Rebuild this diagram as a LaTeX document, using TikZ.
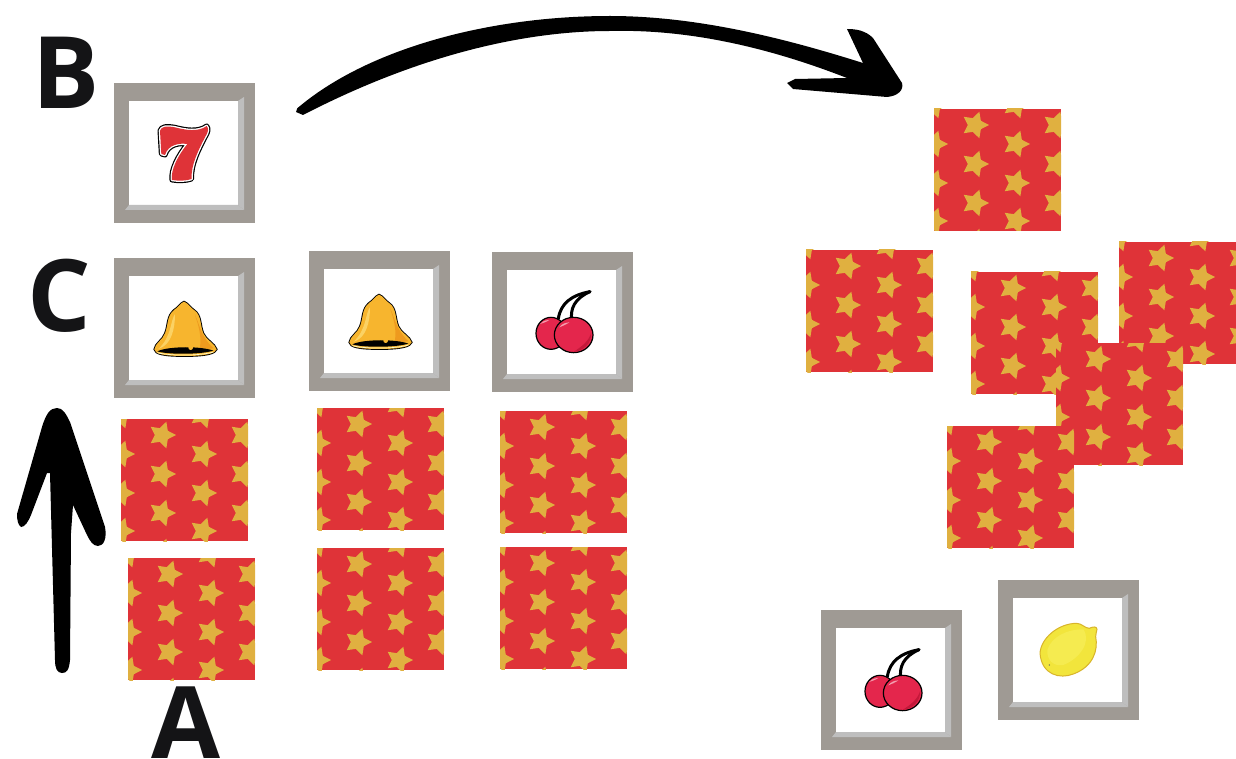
\documentclass[tikz,border=0pt]{standalone}
\usepackage{fontspec}
\setmainfont{Open Sans}
\definecolor{cardred}{HTML}{DF3338}
\definecolor{staryel}{HTML}{E0B040}
\definecolor{framegray}{HTML}{9F9A94}
\definecolor{bevelgray}{HTML}{BEBEBE}
\definecolor{cherryred}{HTML}{E4264C}
\definecolor{cherrydark}{HTML}{C4183A}
\definecolor{inkblack}{HTML}{000000}
\definecolor{lettergray}{HTML}{141416}
\definecolor{bellmid}{HTML}{F7B52E}
\definecolor{bellhigh}{HTML}{FBD264}
\definecolor{belldark}{HTML}{EE9A1E}
\definecolor{lemonfill}{HTML}{F2E53C}
\definecolor{lemonhigh}{HTML}{F5EB50}
\definecolor{lemonedge}{HTML}{D8B42A}
\tikzset{
  x=1pt,y=-1pt,
  letterlabel/.style={inner sep=0pt,anchor=base,text=lettergray,font=\fontsize{100}{100}\selectfont\bfseries},
  backcard/.pic={
    \begin{scope}
      \clip (0,0) rectangle (127,122);
      \fill[cardred] (0,0) rectangle (127,122);
      \foreach \sx/\sy in {0/-4,0/35,0/74,0/112,41/16,41/55,41/94,41/133,82/-4,82/35,82/74,82/112,122/16,122/55,122/94}{
        \fill[staryel,shift={(\sx,\sy)}] (0:14)--(36:7.2)--(72:14)--(108:7.2)--(144:14)--(180:7.2)--(216:14)--(252:7.2)--(288:14)--(324:7.2)--cycle;
      }
    \end{scope}
  },
  framecard/.pic={
    \fill[framegray] (0,0) rectangle (141,140);
    \fill[white] (15,18) rectangle (124,122);
    \fill[bevelgray] (124,18)--(130,14)--(130,127)--(124,122)--cycle;
    \fill[bevelgray] (11,127)--(15,122)--(124,122)--(130,127)--cycle;
  },
  sevenicon/.pic={
    \begin{scope}[shift={(-14,-13)},scale=1/3]
      \def\sevenpath{(180,182) .. controls (184,170) and (197,167) .. (225,172) .. controls (255,180) and (295,187) .. (320,168) .. controls (327,176) and (325,186) .. (315,202) .. controls (297,237) and (272,285) .. (275,327) .. controls (258,333) and (235,333) .. (216,330) .. controls (211,300) and (235,255) .. (262,222) .. controls (240,219) and (205,222) .. (195,255) -- (184,252) -- cycle}
      \draw[inkblack,line width=5,line join=round] \sevenpath;
      \draw[white,line width=2.6,line join=round] \sevenpath;
      \fill[cardred] \sevenpath;
    \end{scope}
  },
  bellicon/.pic={
    \begin{scope}[shift={(-14,-8)},scale=1/3]
      \def\bellpath{(252,155) .. controls (240,160) and (235,172) .. (222,180) .. controls (200,198) and (205,225) .. (195,250) .. controls (188,270) and (165,280) .. (163,298) .. controls (165,312) and (190,318) .. (255,318) .. controls (320,318) and (347,310) .. (350,298) .. controls (345,280) and (318,270) .. (310,250) .. controls (300,225) and (305,195) .. (282,180) .. controls (270,172) and (265,160) .. (252,155) -- cycle}
      \draw[inkblack,line width=1.8] \bellpath;
      \fill[bellmid] \bellpath;
      \fill[belldark] (285,195) .. controls (300,225) and (300,255) .. (340,295) .. controls (320,298) and (310,296) .. (300,292) .. controls (305,255) and (295,225) .. (285,195) -- cycle;
      \fill[bellhigh] (225,192) .. controls (210,215) and (215,260) .. (175,297) .. controls (215,285) and (225,235) .. (225,192) -- cycle;
      \fill[inkblack] (172,304) .. controls (205,288) and (305,288) .. (340,302) .. controls (300,314) and (205,314) .. (172,304) -- cycle;
      \fill[bellmid] (272,293) circle (7);
      \draw[white!80!yellow,line width=.7] (172,308) .. controls (210,318) and (300,318) .. (340,306);
    \end{scope}
  },
  cherryicon/.pic={
    \begin{scope}[shift={(-2,-2)},scale=1/3]
      \draw[inkblack,line width=3,line cap=round] (205,206) .. controls (212,160) and (245,135) .. (300,125);
      \draw[inkblack,line width=3,line cap=round] (246,218) .. controls (238,175) and (255,145) .. (300,125);
      \filldraw[fill=cherryred,draw=inkblack,line width=1.2] (183,250) ellipse [x radius=45,y radius=48];
      \filldraw[fill=cherryred,draw=inkblack,line width=1.2] (251,255) ellipse [x radius=58,y radius=53];
      \fill[cherrydark] (303,250) .. controls (305,280) and (280,303) .. (250,306) .. controls (275,290) and (295,275) .. (303,250) -- cycle;
      \fill[white!55!cherryred] (208,232) .. controls (215,222) and (225,218) .. (238,217) .. controls (228,224) and (218,228) .. (208,232) -- cycle;
      \fill[white!55!cherryred] (150,222) .. controls (156,214) and (165,211) .. (178,210) .. controls (168,216) and (158,220) .. (150,222) -- cycle;
    \end{scope}
  },
  lemonicon/.pic={
    \begin{scope}[shift={(-188,-10)},scale=1/3]
      \def\lemonpath{(690,250) .. controls (692,205) and (745,160) .. (800,160) .. controls (815,160) and (825,175) .. (838,175) .. controls (848,170) and (860,168) .. (861,178) .. controls (862,185) and (855,190) .. (857,200) .. controls (865,240) and (850,290) .. (790,312) .. controls (750,328) and (695,315) .. (690,250) -- cycle}
      \filldraw[fill=lemonfill,draw=lemonedge,line width=1] \lemonpath;
      \fill[lemonhigh] (712,240) .. controls (725,200) and (770,178) .. (820,178) .. controls (845,215) and (810,265) .. (760,285) .. controls (730,290) and (710,270) .. (712,240) -- cycle;
      \fill[black!60] (718,285) circle (2);
    \end{scope}
  }
}
\begin{document}
\begin{tikzpicture}
\useasboundingbox (0,0) rectangle (1236,759);
\fill[white] (0,0) rectangle (1236,759);
\clip (0,0) rectangle (1236,759);

% top arrow
\fill[inkblack] (296,112) .. controls (296,109) and (298,107) .. (300,106)
  .. controls (370,48) and (490,16) .. (610,16)
  .. controls (700,16) and (790,40) .. (863,63)
  -- (847,29) .. controls (855,29) and (865,30) .. (873,38) -- (902,83) .. controls (904,90) and (898,96) .. (887,97)
  -- (793,89) -- (787,83) -- (795,79) -- (847,78)
  .. controls (770,48) and (690,29) .. (610,31)
  .. controls (530,31) and (425,52) .. (303,115) -- cycle;

% up arrow
\fill[inkblack] (57,408) .. controls (63,408) and (66,414) .. (70,422) -- (105,527) .. controls (107,538) and (104,546) .. (98,546) .. controls (93,546) and (90,541) .. (87,535) -- (73,505)
  -- (71,533) -- (70,660) .. controls (69,670) and (67,673) .. (62,673) .. controls (57,673) and (55,668) .. (55,660) -- (50,473) -- (47,473) -- (31,515) .. controls (28,522) and (25,527) .. (21,527) .. controls (18,525) and (17,520) .. (17,514) -- (42,427) .. controls (46,414) and (50,408) .. (57,408) -- cycle;

% left column cards
\pic at (121,419) {backcard};
\pic at (128,558) {backcard};
\pic at (317,408) {backcard};
\pic at (317,548) {backcard};
\pic at (500,411) {backcard};
\pic at (500,547) {backcard};

% scattered cards
\pic at (934,109) {backcard};
\pic at (806,250) {backcard};
\pic at (1119,242) {backcard};
\pic at (971,272) {backcard};
\pic at (1056,343) {backcard};
\pic at (947,426) {backcard};

% face cards
\pic at (114,83) {framecard};
\pic at (114,83) {sevenicon};
\pic at (114,258) {framecard};
\pic at (114,258) {bellicon};
\pic at (309,251) {framecard};
\pic at (309,251) {bellicon};
\pic at (492,252) {framecard};
\pic at (492,252) {cherryicon};
\pic at (821,610) {framecard};
\pic at (821,610) {cherryicon};
\pic at (998,580) {framecard};
\pic at (998,580) {lemonicon};

% letters
\node[letterlabel] (lblB) at (66,109) {B};
\node[letterlabel] (lblC) at (59,331) {C};
\node[letterlabel] (lblA) at (186,758) {A};
\end{tikzpicture}
\end{document}
